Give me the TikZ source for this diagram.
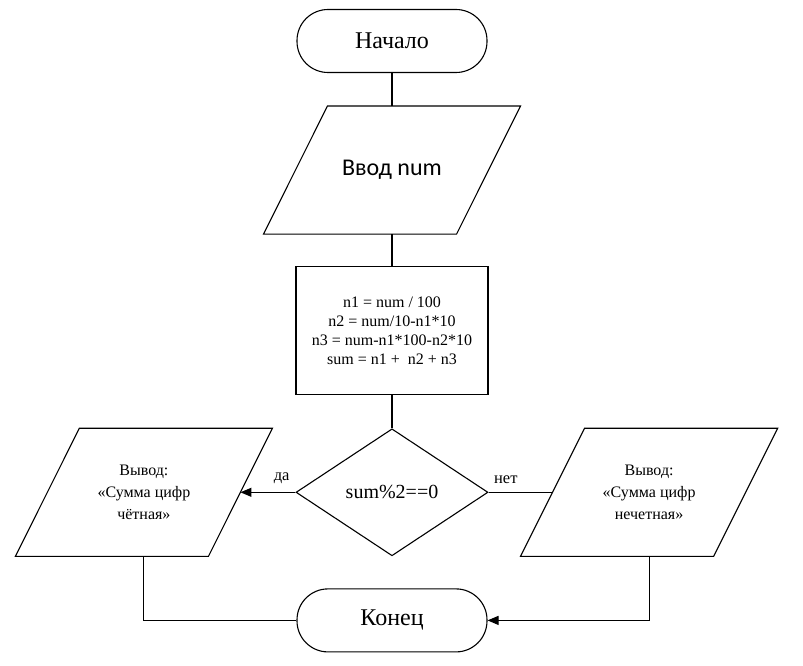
\documentclass[tikz,border=0pt]{standalone}
\usepackage{fontspec}
\setmainfont{Liberation Serif}
\newfontfamily\calibri{Carlito}
\usetikzlibrary{shapes.geometric, arrows.meta, positioning}
\tikzset{
    terminal/.style={rectangle, rounded corners=31pt, minimum width=190pt, minimum height=63pt, text centered, draw=black, font=\fontsize{24}{28}\selectfont},
    io/.style={rectangle, minimum width=192pt, minimum height=127pt, inner sep=0pt, align=center},
    process/.style={rectangle, minimum width=192pt, minimum height=128pt, align=center, draw=black, font=\fontsize{16}{19}\selectfont},
    decision/.style={diamond, minimum width=192pt, minimum height=127pt, inner sep=0pt, text centered, draw=black, font=\fontsize{20}{24}\selectfont},
    line/.style={line width=1.1pt},
    arrow/.style={line width=1.1pt, -{Triangle[length=11pt, width=9pt]}},
    lbl/.style={font=\fontsize{16.5}{19}\selectfont}
}
% slanted frame round an io node
\newcommand\ioframe[1]{\draw [line] ([xshift=32pt]#1.north west) -- ([xshift=32pt]#1.north east) -- ([xshift=-32pt]#1.south east) -- ([xshift=-32pt]#1.south west) -- cycle;}
\begin{document}
\begin{tikzpicture}[x=1pt, y=-1pt, node distance=33pt, line width=1.1pt]
    \useasboundingbox (0,0) rectangle (803,666);
    \node (start) [terminal] at (392,41) {Начало};
    \node (input) [io, below=of start, font=\calibri\fontsize{24}{28}\selectfont] {Ввод num};
    \node (calc) [process, below=32pt of input] {n1 = num / 100\\n2 = num/10-n1*10\\n3 = num-n1*100-n2*10\\sum = n1 +\ \ n2 + n3};
    \node (cond) [decision, below=of calc] {sum\%2==0};
    \node (even) [io, left=55pt of cond, font=\fontsize{16}{22}\selectfont] {Вывод:\\«Сумма цифр\\чётная»};
    \node (odd) [io, right=64pt of cond, font=\fontsize{16}{22}\selectfont] {Вывод:\\«Сумма цифр\\нечетная»};
    \node (stop) [terminal, below=32pt of cond] {Конец};
    \ioframe{input}
    \ioframe{even}
    \ioframe{odd}

    \draw [line] (start) -- (input);
    \draw [line] (input) -- (calc);
    \draw [line] (calc) -- (cond);
    \draw [arrow] (cond.west) -- (even.east) node [lbl, pos=0.25, above=5pt] {да};
    \draw [line] (cond.east) -- (odd.west) node [lbl, pos=0.27, above=5pt] {нет};
    \draw [line] (even.south) |- (stop.west);
    \draw [arrow] (odd.south) |- (stop.east);
\end{tikzpicture}
\end{document}
